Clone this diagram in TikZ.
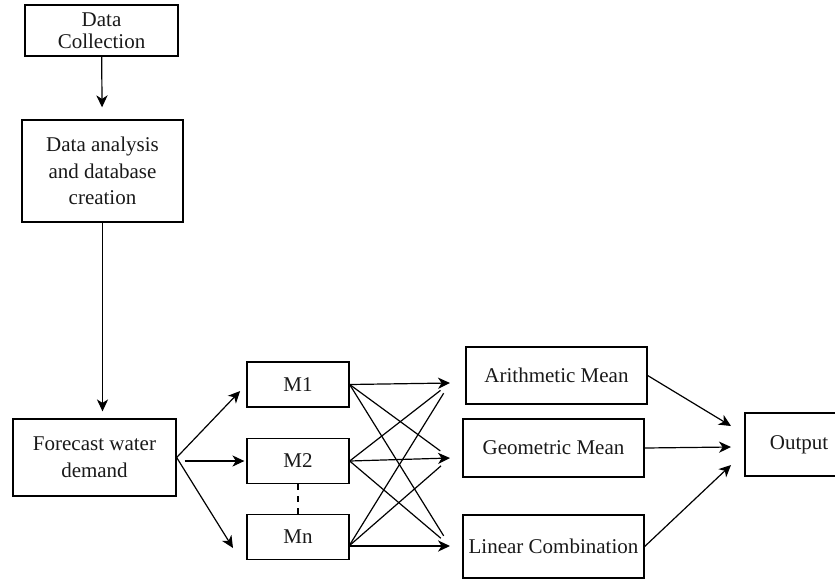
\documentclass[tikz,border=0pt]{standalone}
\usepackage{fontspec}
\setmainfont{Liberation Serif}
\usetikzlibrary{positioning,arrows.meta}

\begin{document}
\begin{tikzpicture}[
  x=0.5pt,y=-0.5pt,
  font=\fontsize{10.5}{13.3}\selectfont,
  >={Stealth[length=6pt,width=5.6pt,inset=1.8pt]},
  mybox/.style={draw,line width=0.65pt,align=center,inner sep=0pt,text=black!90},
  myline/.style={line width=0.6pt},
]
\clip (0,0) rectangle (835,580);

\node[mybox,minimum width=76.5pt,minimum height=25.5pt] (collect) at (101.5,30.5) {Data\\[-2.5pt]Collection};
\node[mybox,minimum width=80.5pt,minimum height=51pt] (analysis) at (102.5,171) {Data analysis\\and database\\creation};
\node[mybox,minimum width=81.5pt,minimum height=38.5pt] (forecast) at (94.5,457.5) {Forecast water\\demand};

\node[mybox,minimum width=51pt,minimum height=22.5pt] (m1) at (298,384.5) {M1};
\node[mybox,minimum width=51pt,minimum height=22.5pt] (m2) at (298,461) {M2};
\node[mybox,minimum width=51pt,minimum height=22.5pt] (mn) at (298,537) {Mn};

\node[mybox,minimum width=90.5pt,minimum height=28.5pt] (arith) at (556.5,375.5) {Arithmetic Mean};
\node[mybox,minimum width=90.5pt,minimum height=29pt] (geom) at (553.5,448) {Geometric Mean};
\node[mybox,minimum width=90.5pt,minimum height=31.5pt] (linear) at (553.5,546.5) {Linear Combination};
\node[mybox,minimum width=54pt,minimum height=31.5pt] (output) at (799,444.5) {Output};

% free ends of the connectors
\coordinate (mnin) at (233,548);
\coordinate (mnout) at (349,546);
\coordinate (tarith) at (450,383);
\coordinate (tgeom) at (450,458);
\coordinate (tlinear) at (450,546);
\coordinate (oarith) at (731,426);
\coordinate (ogeom) at (731,447);
\coordinate (olinear) at (731,465);

\path[myline]
(collect) edge[->,shorten >=6pt] (analysis)
(analysis.south) edge[->,shorten >=3.5pt] (analysis.south |- forecast.north)
(forecast.east) edge[->,shorten >=4.5pt] (m1.west)
(forecast.east |- m2.west) edge[->,shorten <=4pt,shorten >=1pt] (m2.west)
(forecast.east) edge[->] (mnin)
(m2) edge[dashed] (mn)
;

% models to combinations
\path[myline]
(m1.east) edge[->] (tarith)
(m1.east) edge[shorten >=6pt] (tgeom)
(m1.east) edge[shorten >=6pt] (tlinear)
(m2.east) edge[shorten >=6pt] (tarith)
(m2.east) edge[->] (tgeom)
(m2.east) edge[shorten >=6pt] (tlinear)
(mnout) edge[shorten >=6pt] (tarith)
(mnout) edge[shorten >=6pt] (tgeom)
(mnout) edge[->] (tlinear)
;

\path[myline]
(arith.east) edge[->] (oarith)
(geom.east) edge[->] (ogeom)
(linear.east) edge[->] (olinear)
;
\end{tikzpicture}
\end{document}
